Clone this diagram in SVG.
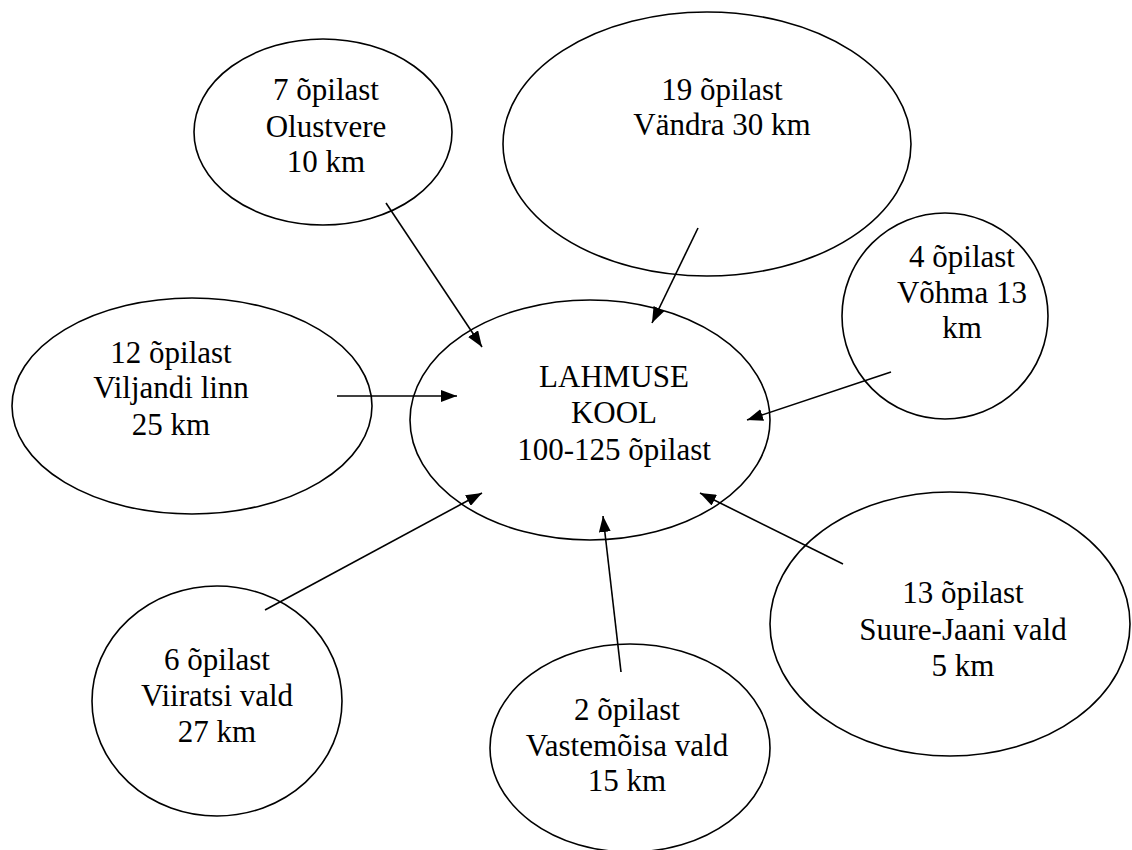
<svg xmlns="http://www.w3.org/2000/svg" width="1132" height="850" viewBox="0 0 1132 850">
<style>
.n ellipse{fill:#fff;stroke:#000;stroke-width:1.6}
.n text{font-family:"Liberation Serif","Times New Roman",serif;font-size:31px;fill:#000;text-anchor:middle}
#connectors line{stroke:#000;stroke-width:1.6;marker-end:url(#ah)}
</style>
<defs>
<marker id="ah" viewBox="0 0 16 12" refX="16" refY="6" markerWidth="16" markerHeight="12" markerUnits="userSpaceOnUse" orient="auto">
<path d="M0,0 L16,6 L0,12 z" fill="#000"/>
</marker>
</defs>
<rect width="1132" height="850" fill="#fff"/>
<g id="vandra" class="n"><ellipse cx="707" cy="144" rx="204" ry="132"/><text x="722" y="100">19 õpilast</text><text x="722" y="135">Vändra 30 km</text></g>
<g id="olustvere" class="n"><ellipse cx="323" cy="132" rx="129" ry="93"/><text x="326" y="100">7 õpilast</text><text x="326" y="137">Olustvere</text><text x="326" y="172">10 km</text></g>
<g id="vohma" class="n"><ellipse cx="945" cy="316" rx="103" ry="103"/><text x="962" y="267">4 õpilast</text><text x="962" y="303">Võhma 13</text><text x="962" y="338">km</text></g>
<g id="viljandi" class="n"><ellipse cx="192" cy="406" rx="180" ry="108"/><text x="171" y="363">12 õpilast</text><text x="171" y="398">Viljandi linn</text><text x="171" y="435">25 km</text></g>
<g id="lahmuse" class="n"><ellipse cx="590" cy="420" rx="180" ry="120"/><text x="614" y="387">LAHMUSE</text><text x="614" y="423">KOOL</text><text x="614" y="460">100-125 õpilast</text></g>
<g id="viiratsi" class="n"><ellipse cx="217" cy="701" rx="125" ry="115"/><text x="217" y="670">6 õpilast</text><text x="217" y="706">Viiratsi vald</text><text x="217" y="742">27 km</text></g>
<g id="vastemoisa" class="n"><ellipse cx="630" cy="748" rx="140" ry="104"/><text x="627" y="720">2 õpilast</text><text x="627" y="756">Vastemõisa vald</text><text x="627" y="791">15 km</text></g>
<g id="suurejaani" class="n"><ellipse cx="950" cy="624" rx="180" ry="132"/><text x="963" y="603">13 õpilast</text><text x="963" y="640">Suure-Jaani vald</text><text x="963" y="676">5 km</text></g>
<g id="connectors">
<line x1="386" y1="203" x2="482" y2="347"/>
<line x1="698" y1="228" x2="652" y2="323"/>
<line x1="891" y1="372" x2="747" y2="420"/>
<line x1="337" y1="396" x2="457" y2="396"/>
<line x1="265" y1="610" x2="482" y2="493"/>
<line x1="621" y1="672" x2="603" y2="516"/>
<line x1="843" y1="564" x2="700" y2="493"/>
</g>
</svg>
